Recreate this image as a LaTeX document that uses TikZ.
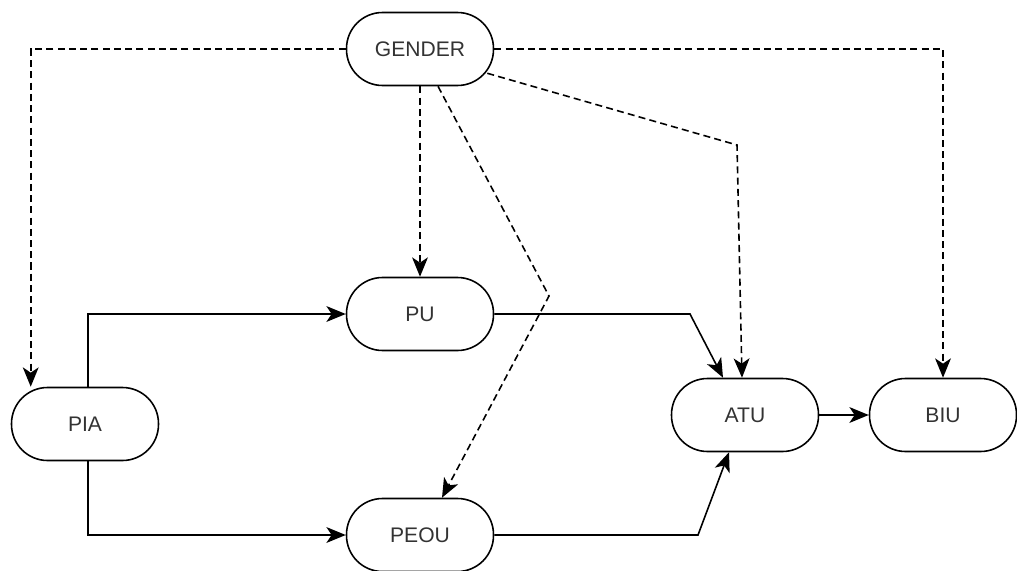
\documentclass[tikz,border=0pt]{standalone}
\usepackage{fontspec}
\setmainfont{Liberation Sans}
\usetikzlibrary{arrows.meta,calc}
\tikzset{
  box/.style={draw, line width=0.9pt, rounded corners=0.72cm, minimum width=2.94cm, minimum height=1.46cm, inner sep=0pt, font=\fontsize{12}{14}\selectfont, text=black!80},
  link/.style={line width=0.9pt, -{Stealth[length=11pt,width=9pt,inset=3pt]}},
  dlink/.style={link, dash pattern=on 4pt off 2.4pt}
}
\begin{document}
\begin{tikzpicture}[x=0.02cm,y=-0.02cm]
\useasboundingbox (0,0) rectangle (1017,571);
\node[box] (G) at (420,49) {GENDER};
\node[box] (PU) at (420,314) {PU};
\node[box] (PEOU) at (420,535) {PEOU};
\node[box] (PIA) at (85,424) {PIA};
\node[box] (ATU) at (745,415) {ATU};
\node[box] (BIU) at (943,415) {BIU};
\coordinate (bp) at (549,296);
\coordinate (ba) at (737,145);
\coordinate (bu) at (690,314);
\coordinate (be) at (698,535);
% dashed gender links
\draw[dlink] (G.west) -| ($(PIA.north west)+(20,0)$);
\draw[dlink] (G.east) -| (BIU.north);
\draw[dlink] (G.south) -- (PU.north);
\draw[dlink] ($(G.south)+(18,0)$) -- (bp) -- ($(PEOU.north)+(22,0)$);
\draw[dlink] ($(G.south east)+(-7,-13)$) -- (ba) -- ($(ATU.north)+(-3,0)$);
% solid links
\draw[link] ($(PIA.north)+(3,0)$) |- (PU.west);
\draw[link] ($(PIA.south)+(3,0)$) |- (PEOU.west);
\draw[link] (PU.east) -- (bu) -- ($(ATU.north)+(-22,0)$);
\draw[link] (PEOU.east) -- (be) -- ($(ATU.south)+(-16,0)$);
\draw[link] (ATU.east) -- (BIU.west);
\end{tikzpicture}
\end{document}
